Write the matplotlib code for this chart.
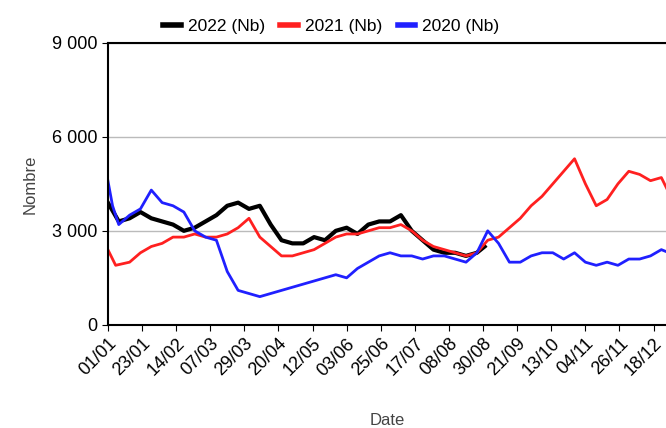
import matplotlib
matplotlib.use("Agg")
import matplotlib.pyplot as plt

d22 = [0,7,14,21,28,35,42,49,56,63,70,77,84,91,98,105,112,119,126,133,140,147,154,161,168,175,182,189,196,203,210,217,224,231,238,243]
v22 = [3900,3300,3400,3600,3400,3300,3200,3000,3100,3300,3500,3800,3900,3700,3800,3200,2700,2600,2600,2800,2700,3000,3100,2900,3200,3300,3300,3500,3000,2700,2400,2300,2300,2200,2300,2500]
d21 = [0,5,14,21,28,35,42,49,56,63,70,77,84,91,98,105,112,119,126,133,140,147,154,161,168,175,182,189,196,203,210,217,224,231,238,245,252,259,266,273,280,287,294,301,308,315,322,329,336,343,350,357,362]
v21 = [2400,1900,2000,2300,2500,2600,2800,2800,2900,2800,2800,2900,3100,3400,2800,2500,2200,2200,2300,2400,2600,2800,2900,2900,3000,3100,3100,3200,3000,2700,2500,2400,2300,2200,2300,2700,2800,3100,3400,3800,4100,4500,4900,5300,4500,3800,4000,4500,4900,4800,4600,4700,4200]
d20 = [0,3,7,14,21,28,35,42,49,56,63,70,77,84,91,98,105,112,119,126,133,140,147,154,161,168,175,182,189,196,203,210,217,224,231,238,245,252,259,266,273,280,287,294,301,308,315,322,329,336,343,350,357,362]
v20 = [4600,3800,3200,3500,3700,4300,3900,3800,3600,3000,2800,2700,1700,1100,1000,900,1000,1100,1200,1300,1400,1500,1600,1500,1800,2000,2200,2300,2200,2200,2100,2200,2200,2100,2000,2300,3000,2600,2000,2000,2200,2300,2300,2100,2300,2000,1900,2000,1900,2100,2100,2200,2400,2300]
tick_days = list(range(0, 353, 22))
tick_labels = ["01/01","23/01","14/02","07/03","29/03","20/04","12/05","03/06","25/06","17/07","08/08","30/08","21/09","13/10","04/11","26/11","18/12"]

plt.rcParams['font.family'] = ['Liberation Sans', 'DejaVu Sans']
fig = plt.figure(figsize=(6.66, 4.28), dpi=100)
ax = fig.add_axes([0.162, 0.241, 0.838, 0.659])
ax.plot(d22, v22, color='black', lw=3, label='2022 (Nb)')
ax.plot(d21, v21, color='#ff2020', lw=2, label='2021 (Nb)')
ax.plot(d20, v20, color='#2020ff', lw=2, label='2020 (Nb)')
ax.set_xlim(0, 360)
ax.set_ylim(0, 9000)
ax.set_yticks([0, 3000, 6000, 9000])
ax.set_yticklabels(['0', '3 000', '6 000', '9 000'], fontsize=13)
ax.set_xticks(tick_days)
ax.set_xticklabels(tick_labels, rotation=45, ha='right', rotation_mode='anchor', fontsize=13)
ax.tick_params(length=4)
ax.grid(axis='y', color='#bbbbbb', lw=1)
ax.set_axisbelow(True)
ax.spines['right'].set_visible(False)
for s in ['left', 'bottom', 'top']:
    ax.spines[s].set_linewidth(1.5)
ax.set_ylabel('Nombre', fontsize=12, color='#444444', labelpad=10)
ax.set_xlabel('Date', fontsize=12, color='#444444', labelpad=24)
leg = ax.legend(loc='lower center', bbox_to_anchor=(0.4, 1.0), ncol=3, frameon=False, fontsize=12.5,
                handlelength=1.0, handletextpad=0.4, columnspacing=0.9, borderaxespad=0.1)
for h in leg.get_lines():
    h.set_linewidth(4)
fig.savefig('out.png', dpi=100)
